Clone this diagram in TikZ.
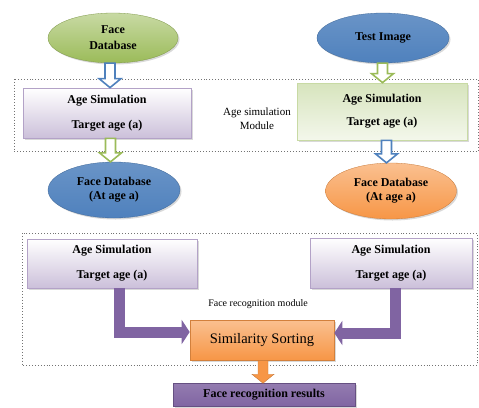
\documentclass[tikz,border=0pt]{standalone}
\usepackage{fontspec}
\setmainfont{Liberation Serif}
\usetikzlibrary{calc,arrows.meta,shapes.geometric,shadows}

\definecolor{olivegreen}{HTML}{9BBB59}
\definecolor{lightolive}{HTML}{D7E4BD}
\definecolor{steelblue}{HTML}{4F81BD}
\definecolor{tangerine}{HTML}{F79646}
\definecolor{lightorange}{HTML}{FAC090}
\definecolor{lavender}{HTML}{CCC0DA}
\definecolor{purpleedge}{HTML}{B3A2C7}
\definecolor{grape}{HTML}{8064A2}

% block arrow between two nodes (style, from, to)
\newcommand{\blockarrow}[3]{%
  \draw[#1] let \p1=(#2.south), \p2=(#3.north), \p3=($(\p1)!.5!(\p2)$) in
    (\x3-5pt,\y1) -- (\x3-5pt,\y2+9pt) -- (\x3-11pt,\y2+9pt) -- (\x3,\y2)
    -- (\x3+11pt,\y2+9pt) -- (\x3+5pt,\y2+9pt) -- (\x3+5pt,\y1) -- cycle;
}

\begin{document}
\begin{tikzpicture}[x=1pt,y=-1pt,
  bold/.style={font={\fontsize{12}{14}\selectfont\bfseries}, align=center},
  shade/.style={drop shadow={opacity=.3, shadow xshift=1.5pt, shadow yshift=-1.5pt}},
  ball/.style={ellipse, bold, inner sep=0pt, shade},
  greenball/.style={ball, top color=olivegreen!55!white, bottom color=olivegreen, draw=olivegreen!80!black, line width=.3pt},
  blueball/.style={ball, top color=steelblue!85!white, bottom color=steelblue, draw=steelblue!80!black, line width=.3pt},
  orangeball/.style={ball, top color=lightorange, bottom color=tangerine, draw=tangerine!80!black, line width=.3pt},
  simbox/.style={rectangle, bold, inner sep=0pt, shade, top color=white, bottom color=lavender, draw=purpleedge, line width=.8pt},
  greenbox/.style={rectangle, bold, inner sep=0pt, shade, top color=lightolive, bottom color=olivegreen!12!white, draw=olivegreen!55!white, line width=.8pt},
  sortbox/.style={rectangle, inner sep=0pt, shade, font={\fontsize{14.5}{16}\selectfont}, top color=lightorange, bottom color=tangerine, draw=tangerine!85!black, line width=.6pt},
  resultbox/.style={rectangle, bold, inner sep=0pt, shade, top color=grape!85, middle color=lavender, bottom color=grape, draw=grape!80!black, line width=.5pt},
  label/.style={align=center},
  frame/.style={dotted, black!55, line width=.9pt},
  hollow/.style={draw=steelblue, fill=white, line width=1.6pt},
  hollowgreen/.style={draw=olivegreen, fill=white, line width=1.6pt},
  solid/.style={draw=tangerine!80!black, fill=tangerine, line width=.4pt},
  elbow/.style={draw=grape, line width=11pt, -{Triangle[width=24pt,length=8pt]}}]

  \useasboundingbox (0,0) rectangle (479,407);

  % module frames
  \draw[frame] (14,79) rectangle (478,151);
  \draw[frame] (22,233) rectangle (477,365);

  % age simulation module
  \node[greenball, minimum width=130, minimum height=50] (facedb) at (113,38) {Face\\[2pt]Database};
  \node[blueball, minimum width=132, minimum height=50] (testimg) at (383,38) {Test Image};

  \node[simbox, minimum width=168, minimum height=50] (ageL) at (107,113) {Age Simulation\\[11pt]Target age (a)};
  \node[greenbox, minimum width=170, minimum height=57] (ageR) at (382,111.5) {Age Simulation\\[9pt]Target age (a)};
  \node[label, font={\fontsize{11}{14}\selectfont}] (agemod) at (257,119) {Age simulation\\Module};

  \node[blueball, minimum width=132, minimum height=56] (dbL) at (114,190) {Face Database\\(At age a)};
  \node[orangeball, minimum width=131, minimum height=56] (dbR) at (391,191) {Face Database\\(At age a)};

  % face recognition module
  \node[simbox, minimum width=170, minimum height=49] (recL) at (112,263.5) {Age Simulation\\[11pt]Target age (a)};
  \node[simbox, minimum width=162, minimum height=50] (recR) at (391,263) {Age Simulation\\[11pt]Target age (a)};
  \node[label, font={\fontsize{10}{12}\selectfont}] (recmod) at (258,304) {Face recognition module};

  \node[sortbox, minimum width=144, minimum height=40] (sort) at (262,340) {Similarity Sorting};
  \node[resultbox, minimum width=182, minimum height=23] (result) at (264,395) {Face recognition results};

  % arrows
  \blockarrow{hollow}{facedb}{ageL}
  \blockarrow{hollowgreen}{testimg}{ageR}
  \blockarrow{hollowgreen}{ageL}{dbL}
  \blockarrow{hollow}{ageR}{dbR}

  \draw[elbow] ([xshift=7pt]recL.south) |- ([yshift=8pt]sort.west);
  \draw[elbow] ([xshift=4pt]recR.south) |- ([yshift=7pt]sort.east);

  \blockarrow{solid}{sort}{result}
\end{tikzpicture}
\end{document}
